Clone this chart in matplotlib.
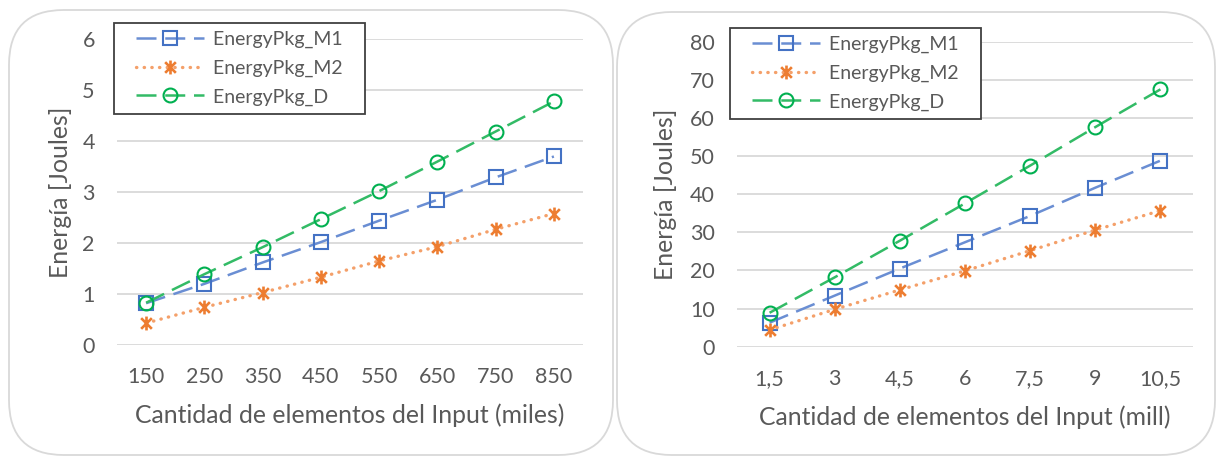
import numpy as np
import matplotlib
matplotlib.use("Agg")
import matplotlib.pyplot as plt
from matplotlib.patches import FancyBboxPatch
from matplotlib.path import Path

plt.rcParams['font.family'] = ['Lato', 'DejaVu Sans']

# ---- data ----
miles_labels = ["150", "250", "350", "450", "550", "650", "750", "850"]
m1_miles = [0.82, 1.20, 1.62, 2.02, 2.44, 2.85, 3.29, 3.70]
m2_miles = [0.43, 0.74, 1.03, 1.33, 1.65, 1.93, 2.27, 2.58]
d_miles = [0.83, 1.39, 1.92, 2.47, 3.02, 3.60, 4.19, 4.78]

mill_labels = ["1,5", "3", "4,5", "6", "7,5", "9", "10,5"]
m1_mill = [6.3, 13.4, 20.5, 27.4, 34.3, 41.7, 48.8]
m2_mill = [4.4, 9.8, 14.9, 19.9, 25.2, 30.6, 35.7]
d_mill = [8.9, 18.2, 27.8, 37.6, 47.5, 57.6, 67.5]

series_names = ["EnergyPkg_M1", "EnergyPkg_M2", "EnergyPkg_D"]

TXT = '#595959'
GRID = '#D9D9D9'

# asterisk-like marker (x plus vertical bar)
star = Path([(-1, -1), (1, 1), (-1, 1), (1, -1), (0, -1.3), (0, 1.3)],
            [Path.MOVETO, Path.LINETO, Path.MOVETO, Path.LINETO,
             Path.MOVETO, Path.LINETO])

styles = [
    dict(color='#6A8ED3', linestyle=(0, (8, 3.5)), linewidth=1.8,
         marker='s', markeredgecolor='#4472C4', markeredgewidth=1.5),
    dict(color='#F4A06A', linestyle=(0, (0.1, 2.2)), linewidth=2.4,
         marker=star, markeredgecolor='#ED7D31', dash_capstyle='round',
         markeredgewidth=1.9),
    dict(color='#33BB66', linestyle=(0, (8, 3.5)), linewidth=1.8,
         marker='o', markeredgecolor='#00B050', markeredgewidth=1.5),
]

W, H = 1217, 457
fig = plt.figure(figsize=(W / 100, H / 100), dpi=100)

# rounded panel borders
for x0, x1, y0, y1 in [(9, 613, 10, 455), (617, 1215, 12, 455)]:
    fig.patches.append(FancyBboxPatch(
        (x0 / W, 1 - y1 / H), (x1 - x0) / W, (y1 - y0) / H,
        boxstyle="round,pad=0,rounding_size=0.045",
        transform=fig.transFigure, facecolor='none',
        edgecolor=GRID, linewidth=1.3, mutation_aspect=W / H))

LEG_FS = 14


def draw_panel(rect, labels, data, yticks, xlabel, ylab_x, leg_xy):
    ax = fig.add_axes(rect)
    x = np.arange(len(labels))
    for vals, name, st in zip(data, series_names, styles):
        ax.plot(x, vals, label=name + "   ", markersize=10,
                markerfacecolor='none', **st)
    ax.set_xlim(-0.5, len(labels) - 0.5)
    ax.set_ylim(yticks[0], yticks[-1])
    ax.set_yticks(yticks)
    ax.set_xticks(x)
    ax.set_xticklabels(labels)
    ax.grid(axis='y', color=GRID, linewidth=1.3)
    ax.set_axisbelow(True)
    for s in ax.spines.values():
        s.set_visible(False)
    ax.tick_params(length=0, labelsize=15.5, colors=TXT)
    ax.tick_params(axis='x', pad=16)
    ax.tick_params(axis='y', pad=16)
    ax.set_xlabel(xlabel, fontsize=17.8, color=TXT, va='center')
    ax.xaxis.set_label_coords(0.5, -0.23)
    ax.set_ylabel("Energía [Joules]", fontsize=17.8, color=TXT, va='center')
    ax.yaxis.set_label_coords(ylab_x, 0.5)
    leg = ax.legend(loc='upper left', bbox_to_anchor=leg_xy,
                    bbox_transform=fig.transFigure, borderaxespad=0,
                    fancybox=False, framealpha=1, edgecolor='#404040',
                    fontsize=LEG_FS, handlelength=4.2, numpoints=1,
                    labelspacing=0.58, borderpad=0.42, handletextpad=0.45)
    leg.get_frame().set_linewidth(1.3)
    for t in leg.get_texts():
        t.set_color(TXT)
    # keep the sample line in the right part of the handle box
    for ln in leg.get_lines():
        xd = np.asarray(ln.get_xdata(), dtype=float)
        x0, x1 = xd.min(), xd.max()
        ln.set_xdata(np.linspace(x1 - (x1 - x0) * 0.83, x1, len(xd)))
    return ax


draw_panel([117 / W, 1 - 345 / H, 466 / W, 305.7 / H], miles_labels,
           [m1_miles, m2_miles, d_miles], np.arange(0, 7, 1),
           "Cantidad de elementos del Input (miles)", -0.122,
           (114 / W, 1 - 23 / H))
draw_panel([737 / W, 1 - 346.7 / H, 456 / W, 305 / H], mill_labels,
           [m1_mill, m2_mill, d_mill], np.arange(0, 81, 10),
           "Cantidad de elementos del Input (mill)", -0.156,
           (730 / W, 1 - 28 / H))

fig.savefig("out.png", dpi=100)
